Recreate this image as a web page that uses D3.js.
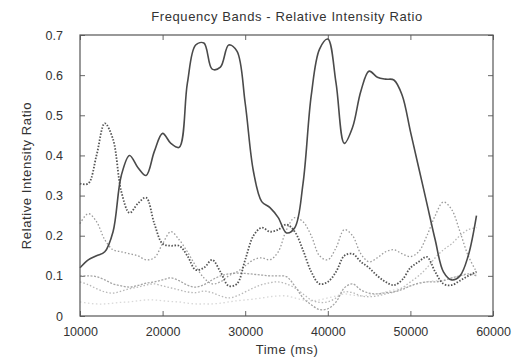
<!DOCTYPE html>
<html>
<head>
<meta charset="utf-8">
<script src="https://cdn.jsdelivr.net/npm/d3@7"></script>
<style>
  body { margin: 0; background: #fff; }
  svg { display: block; font-family: "Liberation Sans", Arial, sans-serif; }
</style>
</head>
<body>
<div id="chart"></div>
<script>
var width = 524;
var height = 362;

// sample times (ms), one per second
var times = d3.range(10000, 58001, 1000);

// band values, one per entry of times
var bandA = [0.12, 0.14, 0.15, 0.16, 0.21, 0.35, 0.40, 0.37, 0.35, 0.41,
  0.455, 0.43, 0.42, 0.58, 0.675, 0.68, 0.615, 0.62, 0.675, 0.66,
  0.53, 0.36, 0.285, 0.27, 0.245, 0.207, 0.22, 0.33, 0.55, 0.665,
  0.69, 0.58, 0.43, 0.47, 0.56, 0.61, 0.595, 0.59, 0.588, 0.55,
  0.46, 0.37, 0.28, 0.19, 0.11, 0.09, 0.10, 0.15, 0.25];
var bandB = [0.33, 0.33, 0.40, 0.48, 0.44, 0.31, 0.257, 0.28, 0.295, 0.23,
  0.18, 0.175, 0.175, 0.15, 0.115, 0.12, 0.14, 0.11, 0.075, 0.08,
  0.14, 0.20, 0.22, 0.21, 0.215, 0.228, 0.21, 0.164, 0.11, 0.08,
  0.085, 0.11, 0.15, 0.155, 0.135, 0.12, 0.10, 0.085, 0.077, 0.09,
  0.12, 0.135, 0.147, 0.11, 0.08, 0.077, 0.088, 0.10, 0.11];
var bandC = [0.23, 0.255, 0.235, 0.19, 0.165, 0.16, 0.155, 0.15, 0.14, 0.145,
  0.18, 0.21, 0.19, 0.16, 0.125, 0.095, 0.08, 0.085, 0.10, 0.11,
  0.125, 0.14, 0.145, 0.14, 0.16, 0.215, 0.245, 0.235, 0.20, 0.15,
  0.14, 0.17, 0.215, 0.20, 0.155, 0.135, 0.145, 0.16, 0.165, 0.155,
  0.148, 0.16, 0.20, 0.25, 0.284, 0.265, 0.21, 0.15, 0.11];
var bandD = [0.10, 0.10, 0.098, 0.09, 0.08, 0.075, 0.072, 0.076, 0.082, 0.085,
  0.09, 0.095, 0.088, 0.077, 0.072, 0.078, 0.09, 0.10, 0.105, 0.107,
  0.106, 0.104, 0.102, 0.10, 0.10, 0.098, 0.075, 0.045, 0.028, 0.016,
  0.018, 0.035, 0.07, 0.08, 0.065, 0.057, 0.055, 0.058, 0.06, 0.066,
  0.075, 0.082, 0.085, 0.085, 0.088, 0.095, 0.10, 0.105, 0.10];
var bandE = [0.085, 0.078, 0.068, 0.06, 0.057, 0.062, 0.068, 0.072, 0.077, 0.08,
  0.075, 0.07, 0.065, 0.06, 0.058, 0.062, 0.058, 0.05, 0.045, 0.05,
  0.06, 0.07, 0.078, 0.083, 0.085, 0.08, 0.07, 0.055, 0.04, 0.034,
  0.035, 0.045, 0.06, 0.058, 0.05, 0.048, 0.05, 0.055, 0.06, 0.07,
  0.085, 0.10, 0.12, 0.145, 0.165, 0.18, 0.20, 0.215, 0.22];
var bandF = [0.035, 0.032, 0.03, 0.03, 0.032, 0.034, 0.035, 0.038, 0.04, 0.04,
  0.038, 0.036, 0.035, 0.032, 0.03, 0.03, 0.03, 0.032, 0.035, 0.038,
  0.04, 0.042, 0.045, 0.048, 0.05, 0.05, 0.045, 0.04, 0.038, 0.04,
  0.045, 0.05, 0.055, 0.052, 0.05, 0.052, 0.055, 0.06, 0.065, 0.07,
  0.075, 0.08, 0.085, 0.088, 0.09, 0.095, 0.10, 0.102, 0.105];

var xTicks = [10000, 20000, 30000, 40000, 50000, 60000];
var yTicks = [0, 0.1, 0.2, 0.3, 0.4, 0.5, 0.6, 0.7];

var series = [
  {values: bandA, color: "#4a4a4a", width: 1.6, dash: null},
  {values: bandB, color: "#555", width: 1.8, dash: "1.5,1.6"},
  {values: bandC, color: "#9a9a9a", width: 1.3, dash: "1.5,2"},
  {values: bandD, color: "#a5a5a5", width: 1.3, dash: "2,1.5"},
  {values: bandE, color: "#b8b8b8", width: 1.3, dash: "1.5,2"},
  {values: bandF, color: "#d8d8d8", width: 1.3, dash: "1.5,2.5"}
];

var margin = {top: 35, right: 31, bottom: 46, left: 80};

var svg = d3.select("#chart").append("svg")
  .attr("width", width)
  .attr("height", height);

var x = d3.scaleLinear()
  .domain([10000, 60000])
  .range([margin.left, width - margin.right]);
var y = d3.scaleLinear()
  .domain([0, 0.7])
  .range([height - margin.bottom, margin.top]);

// inward ticks on all four sides, gnuplot style
var tickLen = 5;
svg.append("g")
  .attr("transform", "translate(0," + y(0) + ")")
  .call(d3.axisBottom(x).tickValues(xTicks).tickSize(-tickLen).tickPadding(11).tickFormat(d3.format("d")))
  .call(g => g.select(".domain").remove());
svg.append("g")
  .attr("transform", "translate(0," + y(0.7) + ")")
  .call(d3.axisTop(x).tickValues(xTicks).tickSize(-tickLen).tickFormat(""))
  .call(g => g.select(".domain").remove());
svg.append("g")
  .attr("transform", "translate(" + x(10000) + ",0)")
  .call(d3.axisLeft(y).tickValues(yTicks).tickSize(-tickLen).tickPadding(17).tickFormat(d => d === 0 ? "0" : d3.format(".1f")(d)))
  .call(g => g.select(".domain").remove());
svg.append("g")
  .attr("transform", "translate(" + x(60000) + ",0)")
  .call(d3.axisRight(y).tickValues(yTicks).tickSize(-tickLen).tickFormat(""))
  .call(g => g.select(".domain").remove());

svg.selectAll(".tick line").attr("stroke", "#666");
svg.selectAll(".tick text")
  .attr("fill", "#333")
  .style("font-size", "12.5px")
  .style("font-family", "'Liberation Sans', Arial, sans-serif");

var line = d3.line()
  .x((d, i) => x(times[i]))
  .y(d => y(d))
  .curve(d3.curveCatmullRom.alpha(0.5));

// lighter bands first so the dark ones sit on top
svg.append("g")
  .selectAll("path")
  .data(series.slice().reverse())
  .join("path")
  .attr("fill", "none")
  .attr("stroke", d => d.color)
  .attr("stroke-width", d => d.width)
  .attr("stroke-dasharray", d => d.dash)
  .attr("d", d => line(d.values));

// frame
svg.append("rect")
  .attr("x", x(10000))
  .attr("y", y(0.7))
  .attr("width", x(60000) - x(10000))
  .attr("height", y(0) - y(0.7))
  .attr("fill", "none")
  .attr("stroke", "#555")
  .attr("stroke-width", 1.2);

svg.append("text")
  .attr("x", 287)
  .attr("y", 21)
  .attr("text-anchor", "middle")
  .attr("fill", "#333")
  .style("font-size", "13px")
  .style("letter-spacing", "0.6px")
  .text("Frequency Bands - Relative Intensity Ratio");

svg.append("text")
  .attr("x", 287)
  .attr("y", 354)
  .attr("text-anchor", "middle")
  .attr("fill", "#333")
  .style("font-size", "13px")
  .style("letter-spacing", "0.5px")
  .text("Time (ms)");

svg.append("text")
  .attr("transform", "translate(31," + (y(0) + y(0.7)) / 2 + ") rotate(-90)")
  .attr("text-anchor", "middle")
  .attr("fill", "#333")
  .style("font-size", "13px")
  .style("letter-spacing", "0.6px")
  .text("Relative Intensity Ratio");
</script>
</body>
</html>
